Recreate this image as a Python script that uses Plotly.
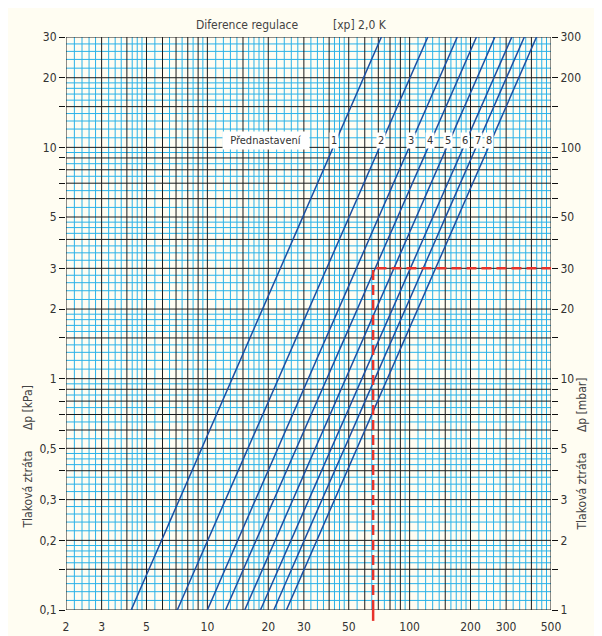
import numpy as np
import plotly.graph_objects as go

# Preset curves: flow at the bottom (0.1 kPa) and top (30 kPa) of the chart
presets = ["1", "2", "3", "4", "5", "6", "7", "8"]
flow_bottom = [4.2, 7.1, 10.0, 12.3, 15.3, 18.3, 21.3, 24.6]
flow_top = [72.5, 123, 172, 214, 264, 320, 369, 424]
dp_ends = [0.1, 30]
label_flow = [42.5, 72, 101, 126, 155, 187, 219, 246]

# Operating point (red dashed)
op_flow = 66
op_dp = 3

x_ticks = [2, 3, 5, 10, 20, 30, 50, 100, 200, 300, 500]
y_ticks_kpa = [0.1, 0.2, 0.3, 0.5, 1, 2, 3, 5, 10, 20, 30]
y_text_kpa = ["0,1", "0,2", "0,3", "0,5", "1", "2", "3", "5", "10", "20", "30"]
y_ticks_mbar = [1, 2, 3, 5, 10, 20, 30, 50, 100, 200, 300]

# log paper subdivisions within one decade
major_m = [1, 1.5, 2, 3, 4, 5, 6, 7, 8, 9]
minor_m = [1.1, 1.2, 1.3, 1.4, 1.6, 1.7, 1.8, 1.9, 2.2, 2.4, 2.6, 2.8,
           3.25, 3.5, 3.75, 4.25, 4.5, 4.75, 5.5, 6.5, 7.5, 8.5, 9.5]

X0, X1 = 2, 500
Y0, Y1 = 0.1, 30
FONT = "Liberation Sans Narrow, DejaVu Sans Condensed, Arial Narrow, sans-serif"
BG = "#FFFDF2"
RED = "#E8332B"

# page body has an 8px margin, so the figure is offset by 8px
OFF = 8
W, H = 602 - OFF, 636 - OFF
L, R, T, B = 66 - OFF, 51, 37 - OFF, 26


def grid_vals(mants, lo, hi):
    out = []
    for d in [0.01, 0.1, 1, 10, 100, 1000]:
        for m in mants:
            v = round(m * d, 6)
            if lo - 1e-9 <= v <= hi + 1e-9:
                out.append(v)
    return sorted(set(out))


def grid_xy(mants):
    xs, ys = [], []
    for v in grid_vals(mants, X0, X1):
        xs += [v, v, None]
        ys += [Y0, Y1, None]
    for v in grid_vals(mants, Y0, Y1):
        xs += [X0, X1, None]
        ys += [v, v, None]
    return xs, ys


def px(xp, yp):
    # page pixel -> paper coords
    return ((xp - OFF - L) / (W - L - R), 1 - (yp - OFF - T) / (H - T - B))


fig = go.Figure()

gx, gy = grid_xy(minor_m)
fig.add_trace(go.Scatter(x=gx, y=gy, mode="lines", line=dict(color="#2BB2E8", width=1),
                         hoverinfo="skip", showlegend=False))
gx, gy = grid_xy(major_m)
fig.add_trace(go.Scatter(x=gx, y=gy, mode="lines", line=dict(color="#1a1a1a", width=1),
                         hoverinfo="skip", showlegend=False))

for i, p in enumerate(presets):
    fig.add_trace(go.Scatter(x=[flow_bottom[i], flow_top[i]], y=dp_ends, mode="lines",
                             line=dict(color="#1B4FA3", width=1.5),
                             name=p, showlegend=False))

# red dashed operating point
fig.add_trace(go.Scatter(x=[op_flow, op_flow, X1], y=[Y0, op_dp, op_dp], mode="lines",
                         line=dict(color=RED, width=2.5, dash="10px,5px"),
                         hoverinfo="skip", showlegend=False))
# short tail of the dashed line below the x axis
op_xp = (np.log10(op_flow) - np.log10(X0)) / (np.log10(X1) - np.log10(X0))
fig.add_shape(type="line", xref="paper", yref="paper", x0=op_xp, x1=op_xp,
              y0=0.0, y1=-0.019, line=dict(color=RED, width=2.5))

# dummy trace for the mbar axis
fig.add_trace(go.Scatter(x=[X0], y=[1], yaxis="y2", mode="markers",
                         marker=dict(opacity=0), hoverinfo="skip", showlegend=False))

for i, p in enumerate(presets):
    fig.add_annotation(x=np.log10(label_flow[i]), y=np.log10(10.7), text=p, showarrow=False,
                       bgcolor="white", borderpad=1,
                       font=dict(family=FONT, size=11, color="#333"))
fig.add_annotation(x=np.log10(19.5), y=np.log10(10.7), text="Přednastavení", showarrow=False,
                   bgcolor="white", borderpad=2, width=82,
                   font=dict(family=FONT, size=11, color="#333"))

txt_font = dict(family=FONT, size=12, color="#444")
for (xp, yp), text, ang in [((247, 16), "Diference regulace", 0),
                            ((360, 16), "[xp] 2,0 K", 0),
                            ((18, 531), "Tlaková ztráta      Δp [kPa]", -90),
                            ((590, 533), "Tlaková ztráta      Δp [mbar]", -90)]:
    ax_, ay_ = px(xp, yp)
    fig.add_annotation(x=ax_, y=ay_, xref="paper", yref="paper", text=text,
                       textangle=ang, showarrow=False, font=txt_font)

y_major = grid_vals(major_m, Y0, Y1)
y_text = [y_text_kpa[y_ticks_kpa.index(v)] if v in y_ticks_kpa else "" for v in y_major]
y2_major = [round(v * 10, 6) for v in y_major]
y2_text = [str(int(v)) if (float(v).is_integer() and int(v) in y_ticks_mbar) else ""
           for v in y2_major]

tick_font = dict(family=FONT, size=12, color="#333")
fig.update_layout(
    width=W, height=H,
    margin=dict(l=L, r=R, t=T, b=B, autoexpand=False),
    paper_bgcolor=BG, plot_bgcolor=BG,
    showlegend=False,
    xaxis=dict(type="log", range=[np.log10(X0), np.log10(X1)], tickvals=x_ticks,
               ticktext=[str(v) for v in x_ticks], showgrid=False, zeroline=False,
               showline=False, ticks="", tickfont=tick_font, ticklabelstandoff=8,
               automargin=False),
    yaxis=dict(type="log", range=[np.log10(Y0), np.log10(Y1)], tickvals=y_major,
               ticktext=y_text, showgrid=False, zeroline=False, showline=False,
               ticks="outside", ticklen=6, tickcolor="#111", tickwidth=1, tickfont=tick_font,
               automargin=False),
    yaxis2=dict(type="log", overlaying="y", side="right",
                range=[np.log10(Y0 * 10), np.log10(Y1 * 10)], tickvals=y2_major,
                ticktext=y2_text, showgrid=False, zeroline=False, showline=False,
                ticks="outside", ticklen=6, tickcolor="#111", tickwidth=1, tickfont=tick_font,
                automargin=False),
)

fig.write_html("out.html")
